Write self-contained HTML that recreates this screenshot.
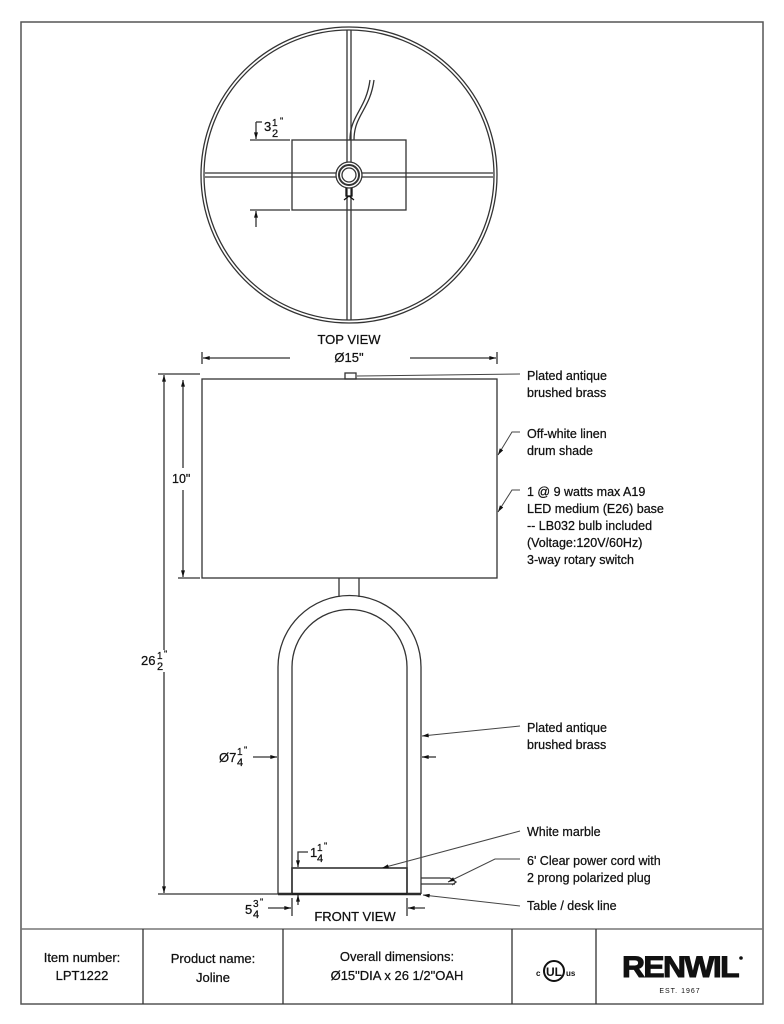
<!DOCTYPE html>
<html><head><meta charset="utf-8"><style>
html,body{margin:0;padding:0;background:#fff;}
svg{display:block;font-family:"Liberation Sans",Arial,sans-serif;}
</style></head><body>
<svg width="784" height="1024" viewBox="0 0 784 1024" xmlns="http://www.w3.org/2000/svg">
<defs>
<marker id="a" viewBox="0 0 10 6" refX="10" refY="3" markerWidth="7" markerHeight="4" orient="auto-start-reverse" markerUnits="userSpaceOnUse"><path d="M0,0 L10,3 L0,6 z" fill="#111"/></marker>
</defs>
<g fill="none" stroke="#333" stroke-width="1.3">
<rect x="21" y="22" width="742" height="982" stroke="#555" stroke-width="1.5"/>
<line x1="21" y1="929" x2="763" y2="929" stroke="#777" stroke-width="1.5"/>
<line x1="143" y1="929" x2="143" y2="1004"/>
<line x1="283" y1="929" x2="283" y2="1004"/>
<line x1="512" y1="929" x2="512" y2="1004"/>
<line x1="596" y1="929" x2="596" y2="1004"/>

<circle cx="349" cy="175" r="148"/>
<circle cx="349" cy="175" r="145"/>
<line x1="347" y1="30" x2="347" y2="320"/><line x1="351" y1="30" x2="351" y2="320"/>
<line x1="205" y1="173" x2="493" y2="173"/><line x1="205" y1="177" x2="493" y2="177"/>
<rect x="292" y="140" width="114" height="70"/>
<circle cx="349" cy="175" r="13" fill="#fff"/>
<circle cx="349" cy="175" r="10" stroke-width="2"/>
<circle cx="349" cy="175" r="7"/>
<path d="M350,140 C350,115 366,110 370,80 M354,140 C354,115 370,110 374,80"/>
<path d="M346,188 v8 h6 v-8 M344,200 l5,-4 l5,4" stroke="#111"/>
<line x1="250" y1="140" x2="290" y2="140"/>
<line x1="250" y1="210" x2="290" y2="210"/>
<line x1="256" y1="122" x2="256" y2="139" marker-end="url(#a)"/>
<line x1="256" y1="122" x2="262" y2="122"/>
<line x1="256" y1="227" x2="256" y2="211" marker-end="url(#a)"/>

<line x1="202" y1="352" x2="202" y2="364"/><line x1="497" y1="352" x2="497" y2="364"/>
<line x1="203" y1="358" x2="290" y2="358" marker-start="url(#a)"/>
<line x1="410" y1="358" x2="496" y2="358" marker-end="url(#a)"/>
<rect x="345" y="373" width="11" height="6"/>
<rect x="202" y="379" width="295" height="199"/>
<line x1="339" y1="578" x2="339" y2="597"/><line x1="359" y1="578" x2="359" y2="597"/>
<path d="M278,894 V667 A71.5,71.5 0 0 1 421,667 V894"/>
<path d="M292,894 V667 A57.5,57.5 0 0 1 407,667 V894"/>
<rect x="292" y="868" width="115" height="26" stroke-width="1.6"/>
<line x1="278" y1="894" x2="421" y2="894" stroke-width="2.5" stroke="#222"/>
<line x1="158" y1="894" x2="292" y2="894"/>
<line x1="407" y1="894" x2="421" y2="894"/>
<line x1="158" y1="374" x2="200" y2="374"/>
<line x1="164" y1="375" x2="164" y2="650" marker-start="url(#a)"/>
<line x1="164" y1="672" x2="164" y2="893" marker-end="url(#a)"/>
<line x1="178" y1="578" x2="200" y2="578"/>
<line x1="183" y1="380" x2="183" y2="468" marker-start="url(#a)"/>
<line x1="183" y1="490" x2="183" y2="577" marker-end="url(#a)"/>
<line x1="253" y1="757" x2="277" y2="757" marker-end="url(#a)"/>
<line x1="436" y1="757" x2="422" y2="757" marker-end="url(#a)"/>
<path d="M308,852 H298 V867" marker-end="url(#a)"/>
<line x1="298" y1="905" x2="298" y2="895" marker-end="url(#a)"/>
<line x1="292" y1="898" x2="292" y2="916"/><line x1="407" y1="898" x2="407" y2="916"/>
<line x1="268" y1="908" x2="291" y2="908" marker-end="url(#a)"/>
<line x1="425" y1="908" x2="408" y2="908" marker-end="url(#a)"/>
<path d="M421,878 H450 M421,884 H455 M450,878 l6,4 l-4,3" />
<g stroke="#444" stroke-width="1">
<line x1="520" y1="374" x2="357" y2="376"/>
<path d="M520,432 H512 L498,455" marker-end="url(#a)"/>
<path d="M520,490 H512 L498,512" marker-end="url(#a)"/>
<line x1="520" y1="726" x2="422" y2="736" marker-end="url(#a)"/>
<line x1="520" y1="831" x2="382" y2="868" marker-end="url(#a)"/>
<path d="M520,859 H495 L448,882" marker-end="url(#a)"/>
<line x1="520" y1="906" x2="423" y2="895" marker-end="url(#a)"/>
</g>
</g>

<g fill="#111" font-size="12.5" stroke="#111" stroke-width="0.25">
<text x="349" y="344" text-anchor="middle" font-size="13">TOP VIEW</text>
<text x="349" y="362" text-anchor="middle" font-size="13">Ø15"</text>
<text x="264" y="131" font-size="13">3</text><text x="272" y="126" font-size="10">1</text><text x="272" y="137" font-size="11">2</text><text x="280" y="124" font-size="9">"</text>
<text x="172" y="483" font-size="12.5">10"</text>
<text x="141" y="665" font-size="13">26</text><text x="157" y="659" font-size="10">1</text><text x="157" y="670" font-size="11">2</text><text x="164" y="657" font-size="9">"</text>
<text x="219" y="762" font-size="13">Ø7</text><text x="237" y="755" font-size="10">1</text><text x="237" y="766" font-size="11">4</text><text x="244" y="753" font-size="9">"</text>
<text x="310" y="857" font-size="13">1</text><text x="317" y="851" font-size="10">1</text><text x="317" y="862" font-size="11">4</text><text x="324" y="849" font-size="9">"</text>
<text x="245" y="914" font-size="13">5</text><text x="253" y="907" font-size="10">3</text><text x="253" y="918" font-size="11">4</text><text x="260" y="905" font-size="9">"</text>
<text x="355" y="921" text-anchor="middle" font-size="13">FRONT VIEW</text>
<text x="527" y="380">Plated antique</text>
<text x="527" y="397">brushed brass</text>
<text x="527" y="438">Off-white linen</text>
<text x="527" y="455">drum shade</text>
<text x="527" y="496">1 @ 9 watts max A19</text>
<text x="527" y="513">LED medium (E26) base</text>
<text x="527" y="530">-- LB032 bulb included</text>
<text x="527" y="547">(Voltage:120V/60Hz)</text>
<text x="527" y="564">3-way rotary switch</text>
<text x="527" y="732">Plated antique</text>
<text x="527" y="749">brushed brass</text>
<text x="527" y="836">White marble</text>
<text x="527" y="865">6' Clear power cord with</text>
<text x="527" y="882">2 prong polarized plug</text>
<text x="527" y="910">Table / desk line</text>
<g font-size="13" text-anchor="middle">
<text x="82" y="962">Item number:</text><text x="82" y="980">LPT1222</text>
<text x="213" y="963">Product name:</text><text x="213" y="982">Joline</text>
<text x="397" y="961">Overall dimensions:</text><text x="397" y="980">Ø15"DIA x 26 1/2"OAH</text>
</g>
</g>
<g fill="#111">
<text x="680" y="977" text-anchor="middle" font-size="30" font-weight="bold" stroke="#111" stroke-width="1" letter-spacing="-1.5" textLength="116" lengthAdjust="spacingAndGlyphs">RENWIL</text>
<circle cx="741" cy="958" r="1.8"/>
<text x="680" y="993" text-anchor="middle" font-size="7" letter-spacing="1">EST. 1967</text>
<text x="536" y="976" font-size="8" font-weight="bold">c</text>
<text x="566" y="976" font-size="8" font-weight="bold">us</text>
</g>
<circle cx="554" cy="971" r="10" fill="none" stroke="#111" stroke-width="2"/>
<text x="554" y="976" text-anchor="middle" font-size="12" font-weight="bold" fill="#111">UL</text>
</svg>
</body></html>
